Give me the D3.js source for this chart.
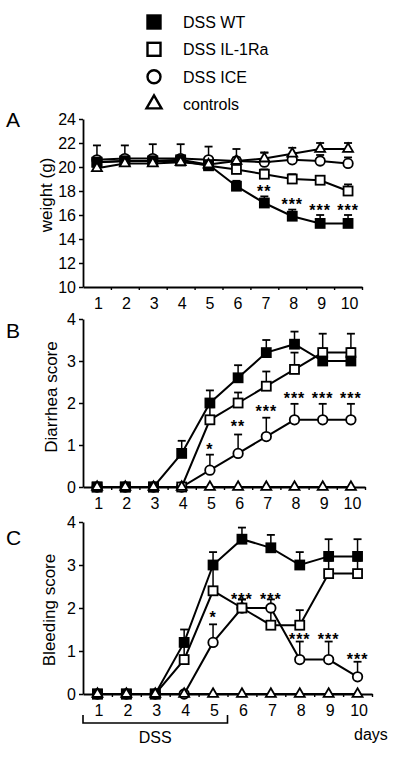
<!DOCTYPE html>
<html><head><meta charset="utf-8">
<script src="https://cdn.jsdelivr.net/npm/d3@7"></script>
<style>
body{margin:0;background:#fff}
svg{display:block}
text{font-family:"Liberation Sans",Arial,Helvetica,sans-serif;fill:#000}
</style>
</head><body>
<svg id="c" width="400" height="757"></svg>
<script>
// ---------- DATA ----------
const days = [1,2,3,4,5,6,7,8,9,10];
const seriesNames = ["DSS WT","DSS IL-1Ra","DSS ICE","controls"];

// Panel A: weight (g)
const weightTicks = [10,12,14,16,18,20,22,24];
const weightWT   = [20.4,20.5,20.5,20.6,20.2,18.4,17.0,15.9,15.3,15.3];
const weightWTErr= [0.3,0.3,0.3,0.3,0.3,0.45,0.55,0.55,0.7,0.7];
const weightIL   = [20.4,20.5,20.5,20.5,20.1,19.8,19.4,19.0,18.9,18.0];
const weightILErr= [0.3,0.3,0.3,0.3,0.3,0.4,0.4,0.4,0.35,0.55];
const weightICE  = [20.6,20.7,20.7,20.7,20.6,20.5,20.4,20.6,20.5,20.3];
const weightICEErr=[1.2,1.1,1.2,1.2,1.1,1.0,0.8,0.5,0.5,0.5];
const weightCtl  = [19.9,20.3,20.3,20.4,20.2,20.5,20.7,21.1,21.5,21.5];
const weightCtlErr=[0.3,0.3,0.3,0.3,0.3,0.3,0.5,0.5,0.5,0.5];
const weightStars = [{day:7,level:18.2,text:"**"},{day:8,level:17.1,text:"***"},{day:9,level:16.65,text:"***"},{day:10,level:16.65,text:"***"}];

// Panel B: diarrhea score
const scoreTicks = [0,1,2,3,4];
const diarWT    = [0,0,0,0.8,2.0,2.6,3.2,3.4,3.0,3.0];
const diarWTErr = [0,0,0,0.3,0.3,0.3,0.3,0.3,0.3,0.3];
const diarIL    = [0,0,0,0,1.6,2.0,2.4,2.8,3.2,3.2];
const diarILErr = [0,0,0,0,0.3,0.25,0.35,0.4,0.45,0.45];
const diarICE   = [0,0,0,0,0.4,0.8,1.2,1.6,1.6,1.6];
const diarICEErr= [0,0,0,0,0.37,0.45,0.45,0.38,0.38,0.38];
const diarCtl   = [0,0,0,0,0,0,0,0,0,0];
const diarCtlErr= [0,0,0,0,0,0,0,0,0,0];
const diarStars = [{day:5,level:0.96,text:"*"},{day:6,level:1.52,text:"**"},{day:7,level:1.86,text:"***"},{day:8,level:2.19,text:"***"},{day:9,level:2.19,text:"***"},{day:10,level:2.19,text:"***"}];

// Panel C: bleeding score
const bleedWT    = [0,0,0,1.2,3.0,3.6,3.4,3.0,3.2,3.2];
const bleedWTErr = [0,0,0,0.3,0.3,0.27,0.3,0.3,0.4,0.4];
const bleedIL    = [0,0,0,0.8,2.4,2.0,1.6,1.6,2.8,2.8];
const bleedILErr = [0,0,0,0.3,0.55,0.2,0.4,0.35,0.3,0.3];
const bleedICE   = [0,0,0,0,1.2,2.0,2.0,0.8,0.8,0.4];
const bleedICEErr= [0,0,0,0,0.42,0.2,0.2,0.42,0.42,0.35];
const bleedCtl   = [0,0,0,0,0,0,0,0,0,0];
const bleedCtlErr= [0,0,0,0,0,0,0,0,0,0];
const bleedStars = [{day:5,level:1.84,text:"*"},{day:6,level:2.26,text:"***"},{day:7,level:2.26,text:"***"},{day:8,level:1.33,text:"***"},{day:9,level:1.33,text:"***"},{day:10,level:0.87,text:"***"}];

// ---------- DRAWING ----------
const svg = d3.select("#c");
const FONT = '"Liberation Sans",Arial,Helvetica,sans-serif';

function markerShape(g, kind, cx, cy, s){
  const sw = s>10?2.4:1.8;
  if(kind===0 || kind===1){
    g.append("rect").attr("x",cx-s/2).attr("y",cy-s/2).attr("width",s).attr("height",s)
      .attr("fill",kind===0?"#000":"#fff").attr("stroke","#000").attr("stroke-width",sw);
  } else if(kind===2){
    g.append("circle").attr("cx",cx).attr("cy",cy).attr("r",s/2)
      .attr("fill","#fff").attr("stroke","#000").attr("stroke-width",sw);
  } else {
    const area = s*s*Math.sqrt(3)/4;
    g.append("path").attr("transform",`translate(${cx},${cy})`)
      .attr("d",d3.symbol(d3.symbolTriangle, area)())
      .attr("fill","#fff").attr("stroke","#000").attr("stroke-width",sw);
  }
}

function drawPanel(p){
  const g = svg.append("g");
  const x = d3.scaleLinear().domain([0.5,10.5]).range([83,p.xEnd]);
  const y = d3.scaleLinear().domain(p.yDomain).range([p.yBottom,p.yTop]);

  // y axis
  const ya = g.append("g").attr("transform","translate(83,0)")
    .call(d3.axisLeft(y).tickValues(p.yTicks).tickFormat(d3.format("d")).tickSize(4).tickSizeOuter(0).tickPadding(3));
  ya.select(".domain").attr("stroke-width",1.8);
  ya.selectAll(".tick line").attr("stroke-width",1.5);
  ya.selectAll(".tick text").style("font-family",FONT).style("font-size","16px").attr("fill","#000");

  // x axis (ticks between days)
  const xa = g.append("g").attr("transform",`translate(0,${p.yBottom})`)
    .call(d3.axisBottom(x).tickValues(days.map(d=>d+0.5)).tickSize(3).tickSizeOuter(0).tickFormat(""));
  xa.select(".domain").attr("stroke-width",1.8);
  xa.selectAll(".tick line").attr("stroke-width",1.4);

  // x labels
  g.selectAll("text.xl").data(days).enter().append("text").attr("class","xl")
    .attr("x",d=>x(d)+1.5).attr("y",p.yBottom+22).attr("text-anchor","middle")
    .style("font-size","16px").text(d=>d);

  const order = [2,1,0,3]; // ICE, IL, WT, controls
  // error bars
  order.forEach(k=>{
    const vals = p.series[k], errs = p.errs[k];
    days.forEach((d,i)=>{
      if(errs[i]<=0) return;
      const xx = x(d), y0 = y(vals[i]), y1 = y(vals[i]+errs[i]);
      g.append("line").attr("x1",xx).attr("x2",xx).attr("y1",y0).attr("y2",y1).attr("stroke","#000").attr("stroke-width",1.5);
      g.append("line").attr("x1",xx-4).attr("x2",xx+4).attr("y1",y1).attr("y2",y1).attr("stroke","#000").attr("stroke-width",1.8);
    });
  });
  // lines
  const line = d3.line().x(d=>x(d[0])).y(d=>y(d[1]));
  order.forEach(k=>{
    g.append("path").attr("d",line(days.map((d,i)=>[d,p.series[k][i]])))
      .attr("fill","none").attr("stroke","#000").attr("stroke-width",2);
  });
  // markers
  order.forEach(k=>{
    days.forEach((d,i)=>{
      const s = k===3?10:(k===2?9.5:9);
      markerShape(g,k,x(d),y(p.series[k][i]),s);
    });
  });
  // stars
  g.selectAll("text.st").data(p.stars).enter().append("text").attr("class","st")
    .attr("x",d=>x(d.day)).attr("y",d=>y(d.level)+8.5).attr("text-anchor","middle")
    .style("font-size","16px").style("font-weight","bold").style("letter-spacing","1px").text(d=>d.text);

  // y title
  g.append("text").attr("transform",`translate(${p.titleX},${p.titleY}) rotate(-90)`)
    .attr("text-anchor","middle").style("font-size","17px").text(p.title);
  // panel letter
  g.append("text").attr("x",6).attr("y",p.letterY).style("font-size","21px").text(p.letter);
  return x;
}

drawPanel({letter:"A",letterY:127,title:"weight (g)",titleX:52,titleY:195,
  xEnd:362,yDomain:[10,24],yBottom:287,yTop:119,yTicks:weightTicks,
  series:[weightWT,weightIL,weightICE,weightCtl],errs:[weightWTErr,weightILErr,weightICEErr,weightCtlErr],stars:weightStars});
drawPanel({letter:"B",letterY:338,title:"Diarrhea score",titleX:57,titleY:397,
  xEnd:365,yDomain:[0,4],yBottom:487,yTop:319,yTicks:scoreTicks,
  series:[diarWT,diarIL,diarICE,diarCtl],errs:[diarWTErr,diarILErr,diarICEErr,diarCtlErr],stars:diarStars});
const xC = drawPanel({letter:"C",letterY:545,title:"Bleeding score",titleX:55,titleY:610,
  xEnd:372,yDomain:[0,4],yBottom:694,yTop:522,yTicks:scoreTicks,
  series:[bleedWT,bleedIL,bleedICE,bleedCtl],errs:[bleedWTErr,bleedILErr,bleedICEErr,bleedCtlErr],stars:bleedStars});

// DSS bracket (days 1-5)
const bx0 = 83, bx1 = xC(5.5);
svg.append("path").attr("d",`M${bx0},715V723H${bx1}V715`).attr("fill","none").attr("stroke","#000").attr("stroke-width",1.6);
svg.append("text").attr("x",(bx0+bx1)/2).attr("y",743).attr("text-anchor","middle").style("font-size","16px").text("DSS");
svg.append("text").attr("x",354).attr("y",740).style("font-size","16px").text("days");

// legend
const legY = [22,49.3,76.7,104];
seriesNames.forEach((n,k)=>{
  const lg = svg.append("g");
  markerShape(lg,k,154,legY[k],k===3?15:13);
  lg.append("text").attr("x",183).attr("y",legY[k]+6).style("font-size","16px").text(n);
});
</script>
</body></html>
